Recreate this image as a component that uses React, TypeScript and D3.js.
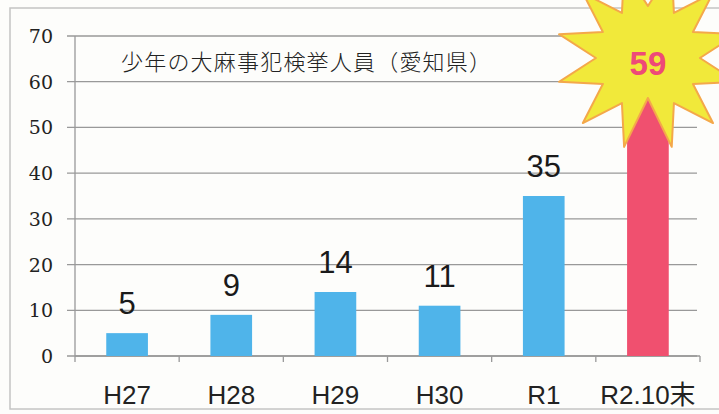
import React from "react";
import { scaleBand, scaleLinear, range, line, curveLinearClosed } from "d3";

const categories = ["H27", "H28", "H29", "H30", "R1", "R2.10末"];
const arrests = [5, 9, 14, 11, 35, 59];
const yTicks = [0, 10, 20, 30, 40, 50, 60, 70];
const title = "少年の大麻事犯検挙人員（愛知県）";
const highlight = "R2.10末";

const W = 719;
const H = 414;
const margin = { top: 36, right: 19, bottom: 58, left: 75 };

export default function App() {
  const x = scaleBand<string>()
    .domain(categories)
    .range([margin.left, W - margin.right])
    .paddingInner(0.6)
    .paddingOuter(0.3);

  const y = scaleLinear()
    .domain([0, 70])
    .range([H - margin.bottom, margin.top]);

  const y0 = y(0);
  const step = x.step();
  const axisStart = margin.left;
  const boundaries = range(1, categories.length + 1).map((i) => axisStart + i * step);

  // burst star behind the last value
  const cx = (x(highlight) ?? 0) + x.bandwidth() / 2;
  const cy = 58;
  const starPts: [number, number][] = range(24).map((i) => {
    const a = ((75 + i * 15) * Math.PI) / 180;
    const r = i % 2 === 0 ? 92 : i === 1 ? 40 : 52;
    return [cx + r * Math.cos(a), cy + r * Math.sin(a)];
  });
  const starPath = line().curve(curveLinearClosed)(starPts) ?? "";

  return (
    <svg
      width={W}
      height={H}
      style={{ position: "absolute", left: 0, top: 0, background: "#fdfdfb" }}
    >
      {/* frame */}
      <rect x={10} y={8} width={740} height={401} fill="none" stroke="#c4c4c4" strokeWidth={1.5} />

      {/* gridlines + y ticks */}
      {yTicks.map((t) => (
        <g key={t}>
          <line x1={67} x2={697} y1={y(t)} y2={y(t)} stroke="#999" strokeWidth={1.3} />
          <text
            x={53}
            y={y(t) + 7}
            textAnchor="end"
            style={{ fontFamily: "'DejaVu Serif', 'Liberation Serif', serif" }}
            fontSize={19}
            fill="#222"
          >
            {t}
          </text>
        </g>
      ))}

      {/* y axis */}
      <line x1={axisStart} x2={axisStart} y1={y(70)} y2={y0 + 6} stroke="#999" strokeWidth={1.3} />
      {/* x axis */}
      <line x1={axisStart} x2={W - margin.right} y1={y0} y2={y0} stroke="#999" strokeWidth={1.3} />
      {boundaries.map((b, i) => (
        <line key={i} x1={b} x2={b} y1={y0} y2={y0 + 6} stroke="#999" strokeWidth={1.3} />
      ))}

      {/* title */}
      <text
        x={121}
        y={70}
        fontFamily="'Noto Sans CJK JP', sans-serif"
        fontSize={22}
        fontWeight={300}
        letterSpacing={1.2}
        fill="#222"
      >
        {title}
      </text>

      {/* bars */}
      {categories.map((c, i) => (
        <rect
          key={c}
          x={x(c)}
          y={y(arrests[i])}
          width={x.bandwidth()}
          height={y0 - y(arrests[i])}
          fill={c === highlight ? "#f0506f" : "#4fb4ea"}
        />
      ))}

      {/* value labels */}
      {categories.map((c, i) =>
        c === highlight ? null : (
          <text
            key={c}
            x={(x(c) ?? 0) + x.bandwidth() / 2}
            y={y(arrests[i]) - 19}
            textAnchor="middle"
            fontFamily="'Liberation Sans', Arial, sans-serif"
            fontSize={31}
            fill="#1a1a1a"
          >
            {arrests[i]}
          </text>
        )
      )}

      {/* star burst */}
      <path d={starPath} fill="#f1e93a" stroke="#f4a84a" strokeWidth={2} strokeLinejoin="round" />
      <text
        x={cx}
        y={75}
        textAnchor="middle"
        fontFamily="'Liberation Sans', Arial, sans-serif"
        fontWeight="bold"
        fontSize={33}
        fill="#ee4a78"
      >
        {arrests[categories.indexOf(highlight)]}
      </text>

      {/* x labels */}
      {categories.map((c) => (
        <text
          key={c}
          x={(x(c) ?? 0) + x.bandwidth() / 2}
          y={404}
          textAnchor="middle"
          fontFamily="'Liberation Sans', 'Noto Sans CJK JP', sans-serif"
          fontSize={26}
          fill="#222"
        >
          {c}
        </text>
      ))}
    </svg>
  );
}
